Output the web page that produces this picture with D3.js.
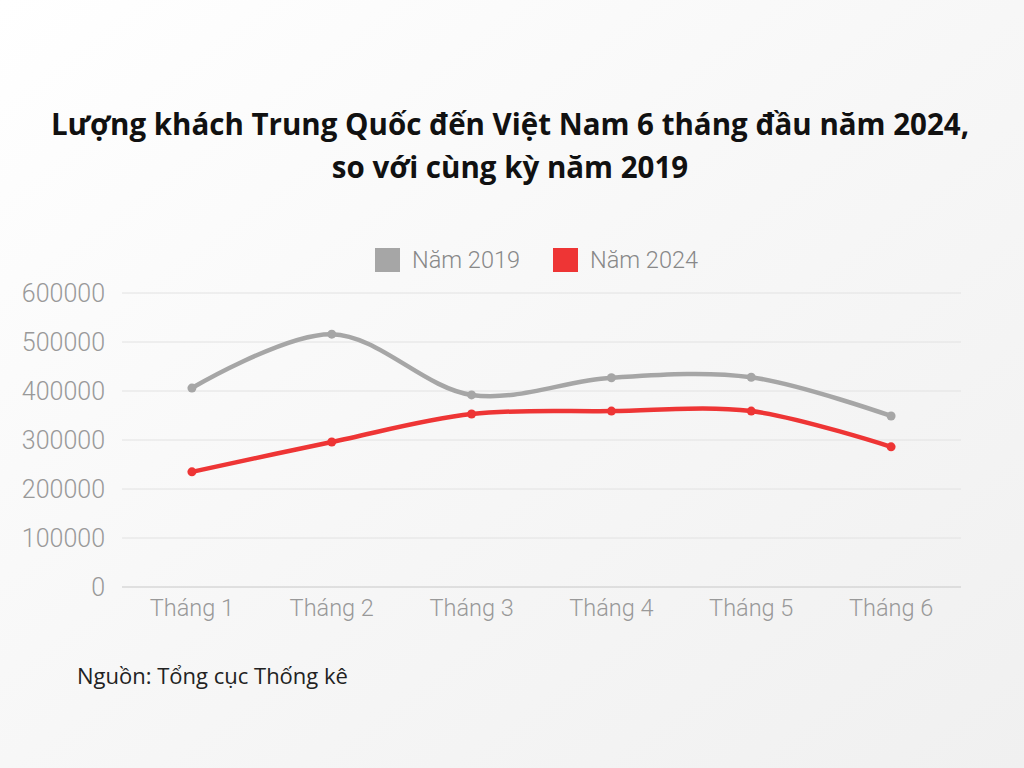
<!DOCTYPE html>
<head>
    <meta http-equiv="Content-Type" content="text/html; charset=UTF-8">
    <title>Lượng khách Trung Quốc đến Việt Nam</title>
    <style type="text/css">
        html, body { margin: 0; padding: 0; }
        body { width: 1024px; height: 768px; background: #f6f6f6; }
        text { font-family: "Open Sans", sans-serif; }
    </style>
</head>
<body>
    <svg id="chart" width="1024" height="768"></svg>
    <script src="https://cdn.jsdelivr.net/npm/d3@7"></script>
    <script>
        var months = ["Tháng 1", "Tháng 2", "Tháng 3", "Tháng 4", "Tháng 5", "Tháng 6"];
        var series = [
            { name: "Năm 2019", color: "#a6a6a6", values: [406000, 516000, 392000, 427000, 428000, 349000] },
            { name: "Năm 2024", color: "#ee3535", values: [235000, 296000, 353000, 359000, 359000, 286000] }
        ];

        var svg = d3.select("#chart");

        var defs = svg.append("defs");
        var grad = defs.append("linearGradient").attr("id", "bg").attr("x1", 0).attr("y1", 0).attr("x2", 1).attr("y2", 1);
        grad.append("stop").attr("offset", "0%").attr("stop-color", "#ffffff");
        grad.append("stop").attr("offset", "50%").attr("stop-color", "#f7f7f7");
        grad.append("stop").attr("offset", "100%").attr("stop-color", "#f0f0f0");
        svg.append("rect").attr("width", 1024).attr("height", 768).attr("fill", "url(#bg)");

        svg.append("text").attr("x", 510).attr("y", 135).attr("text-anchor", "middle")
            .attr("font-size", 29.5).attr("font-weight", "bold").attr("fill", "#111")
            .text("Lượng khách Trung Quốc đến Việt Nam 6 tháng đầu năm 2024,");
        svg.append("text").attr("x", 510).attr("y", 178).attr("text-anchor", "middle")
            .attr("font-size", 29.5).attr("font-weight", "bold").attr("fill", "#111")
            .text("so với cùng kỳ năm 2019");

        var x = d3.scaleBand().domain(months).range([122, 961]);
        var y = d3.scaleLinear().domain([0, 600000]).range([587, 293]);

        var grid = svg.append("g");
        y.ticks(6).forEach(function (t) {
            grid.append("line").attr("x1", 122).attr("x2", 961).attr("y1", y(t)).attr("y2", y(t))
                .attr("stroke", t === 0 ? "#c8c8c8" : "#e2e2e2").attr("stroke-width", 1);
        });

        var yAxis = svg.append("g").attr("transform", "translate(105,0)")
            .call(d3.axisLeft(y).ticks(6).tickSize(0).tickFormat(d3.format("d")));
        yAxis.select(".domain").remove();
        yAxis.selectAll("text").attr("font-size", 25).attr("fill", "#999").attr("dx", 3)
            .style("font-family", "Roboto, sans-serif").style("font-weight", 300);

        var xAxis = svg.append("g").attr("transform", "translate(0,587)")
            .call(d3.axisBottom(x).tickSize(0).tickPadding(12));
        xAxis.select(".domain").remove();
        xAxis.selectAll("text").attr("font-size", 23.5).attr("fill", "#999")
            .style("font-family", "Roboto, sans-serif").style("font-weight", 300);

        var line = d3.line()
            .x(function (d, i) { return x(months[i]) + x.bandwidth() / 2; })
            .y(function (d) { return y(d); })
            .curve(d3.curveCatmullRom.alpha(0.5));

        series.forEach(function (s) {
            svg.append("path").attr("d", line(s.values)).attr("fill", "none")
                .attr("stroke", s.color).attr("stroke-width", 4.5).attr("stroke-linecap", "round");
            svg.selectAll(null).data(s.values).enter().append("circle")
                .attr("cx", function (d, i) { return x(months[i]) + x.bandwidth() / 2; })
                .attr("cy", function (d) { return y(d); })
                .attr("r", 4.5).attr("fill", s.color);
        });

        var legend = svg.append("g");
        var lx = [375, 553];
        series.forEach(function (s, i) {
            legend.append("rect").attr("x", lx[i]).attr("y", 248).attr("width", 25).attr("height", 24).attr("fill", s.color);
            legend.append("text").attr("x", lx[i] + 37).attr("y", 268).attr("font-size", 23.5).attr("fill", "#888")
                .style("font-family", "Roboto, sans-serif").style("font-weight", 300).text(s.name);
        });

        svg.append("text").attr("x", 77).attr("y", 684).attr("font-size", 22).attr("fill", "#222")
            .text("Nguồn: Tổng cục Thống kê");
    </script>
</body>
</html>
